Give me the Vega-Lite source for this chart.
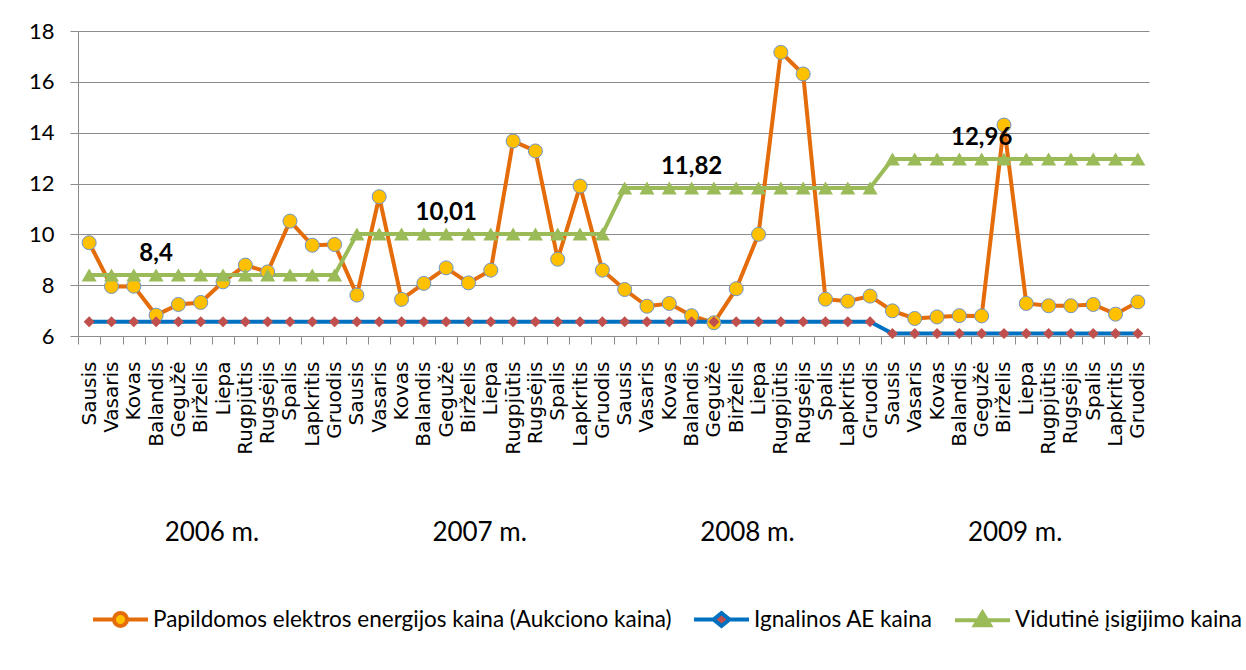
{
  "$schema": "https://vega.github.io/schema/vega-lite/v6.json",
  "width": 1071,
  "height": 305,
  "autosize": {"type": "none"},
  "padding": {"left": 78, "top": 31, "right": 97, "bottom": 334},
  "background": "white",
  "config": {"font": "Lato", "view": {"stroke": null}},
  "datasets": {
    "main": [
      {"m": "2006 Sausis", "P": 9.67, "I": 6.56, "V": 8.4},
      {"m": "2006 Vasaris", "P": 7.95, "I": 6.56, "V": 8.4},
      {"m": "2006 Kovas", "P": 7.96, "I": 6.56, "V": 8.4},
      {"m": "2006 Balandis", "P": 6.82, "I": 6.56, "V": 8.4, "lab": "8,4"},
      {"m": "2006 Gegužė", "P": 7.24, "I": 6.56, "V": 8.4},
      {"m": "2006 Birželis", "P": 7.32, "I": 6.56, "V": 8.4},
      {"m": "2006 Liepa", "P": 8.13, "I": 6.56, "V": 8.4},
      {"m": "2006 Rugpjūtis", "P": 8.79, "I": 6.56, "V": 8.4},
      {"m": "2006 Rugsėjis", "P": 8.52, "I": 6.56, "V": 8.4},
      {"m": "2006 Spalis", "P": 10.52, "I": 6.56, "V": 8.4},
      {"m": "2006 Lapkritis", "P": 9.57, "I": 6.56, "V": 8.4},
      {"m": "2006 Gruodis", "P": 9.6, "I": 6.56, "V": 8.4},
      {"m": "2007 Sausis", "P": 7.61, "I": 6.56, "V": 10.01},
      {"m": "2007 Vasaris", "P": 11.48, "I": 6.56, "V": 10.01},
      {"m": "2007 Kovas", "P": 7.44, "I": 6.56, "V": 10.01},
      {"m": "2007 Balandis", "P": 8.07, "I": 6.56, "V": 10.01},
      {"m": "2007 Gegužė", "P": 8.68, "I": 6.56, "V": 10.01, "lab": "10,01"},
      {"m": "2007 Birželis", "P": 8.09, "I": 6.56, "V": 10.01},
      {"m": "2007 Liepa", "P": 8.59, "I": 6.56, "V": 10.01},
      {"m": "2007 Rugpjūtis", "P": 13.67, "I": 6.56, "V": 10.01},
      {"m": "2007 Rugsėjis", "P": 13.28, "I": 6.56, "V": 10.01},
      {"m": "2007 Spalis", "P": 9.02, "I": 6.56, "V": 10.01},
      {"m": "2007 Lapkritis", "P": 11.9, "I": 6.56, "V": 10.01},
      {"m": "2007 Gruodis", "P": 8.59, "I": 6.56, "V": 10.01},
      {"m": "2008 Sausis", "P": 7.83, "I": 6.56, "V": 11.82},
      {"m": "2008 Vasaris", "P": 7.17, "I": 6.56, "V": 11.82},
      {"m": "2008 Kovas", "P": 7.28, "I": 6.56, "V": 11.82},
      {"m": "2008 Balandis", "P": 6.8, "I": 6.56, "V": 11.82, "lab": "11,82"},
      {"m": "2008 Gegužė", "P": 6.52, "I": 6.56, "V": 11.82},
      {"m": "2008 Birželis", "P": 7.86, "I": 6.56, "V": 11.82},
      {"m": "2008 Liepa", "P": 10.0, "I": 6.56, "V": 11.82},
      {"m": "2008 Rugpjūtis", "P": 17.16, "I": 6.56, "V": 11.82},
      {"m": "2008 Rugsėjis", "P": 16.31, "I": 6.56, "V": 11.82},
      {"m": "2008 Spalis", "P": 7.45, "I": 6.56, "V": 11.82},
      {"m": "2008 Lapkritis", "P": 7.37, "I": 6.56, "V": 11.82},
      {"m": "2008 Gruodis", "P": 7.57, "I": 6.56, "V": 11.82},
      {"m": "2009 Sausis", "P": 6.99, "I": 6.1, "V": 12.96},
      {"m": "2009 Vasaris", "P": 6.69, "I": 6.1, "V": 12.96},
      {"m": "2009 Kovas", "P": 6.75, "I": 6.1, "V": 12.96},
      {"m": "2009 Balandis", "P": 6.8, "I": 6.1, "V": 12.96},
      {"m": "2009 Gegužė", "P": 6.79, "I": 6.1, "V": 12.96, "lab": "12,96"},
      {"m": "2009 Birželis", "P": 14.3, "I": 6.1, "V": 12.96},
      {"m": "2009 Liepa", "P": 7.28, "I": 6.1, "V": 12.96},
      {"m": "2009 Rugpjūtis", "P": 7.19, "I": 6.1, "V": 12.96},
      {"m": "2009 Rugsėjis", "P": 7.19, "I": 6.1, "V": 12.96},
      {"m": "2009 Spalis", "P": 7.24, "I": 6.1, "V": 12.96},
      {"m": "2009 Lapkritis", "P": 6.86, "I": 6.1, "V": 12.96},
      {"m": "2009 Gruodis", "P": 7.34, "I": 6.1, "V": 12.96}
    ],
    "years": [
      {"yr": "2006 m."},
      {"yr": "2007 m."},
      {"yr": "2008 m."},
      {"yr": "2009 m."}
    ]
  },
  "layer": [
    {
      "layer": [
        {
          "data": {"name": "main"},
          "transform": [{"fold": ["P", "I", "V"], "as": ["s", "v"]}],
          "mark": {"type": "line", "strokeWidth": 4},
          "encoding": {
            "x": {
              "field": "m", "type": "ordinal", "sort": null,
              "scale": {"type": "band", "paddingInner": 0, "paddingOuter": 0},
              "axis": {
                "title": null, "orient": "bottom", "labelAngle": -90,
                "labelFont": "DejaVu Sans", "labelFontSize": 20, "labelColor": "#000000", "labelPadding": 17,
                "labelExpr": "split(datum.value, ' ')[1]",
                "labelOverlap": false, "labelFlush": false, "labelBound": false,
                "tickBand": "extent", "tickSize": 8, "tickColor": "#8c8c8c",
                "domainColor": "#8c8c8c", "grid": false
              }
            },
            "y": {
              "field": "v", "type": "quantitative",
              "scale": {"domain": [6, 18], "nice": false, "zero": false},
              "axis": {
                "title": null, "values": [6, 8, 10, 12, 14, 16, 18],
                "labelFontSize": 22, "labelColor": "#000000", "labelPadding": 16,
                "tickSize": 8, "tickColor": "#8c8c8c", "domainColor": "#8c8c8c",
                "grid": true, "gridColor": "#8c8c8c", "gridWidth": 1
              }
            },
            "stroke": {
              "field": "s", "type": "nominal",
              "scale": {"domain": ["P", "I", "V"], "range": ["#E46C0A", "#0070C0", "#9BBB59"]},
              "legend": {
                "orient": "none", "direction": "horizontal", "legendX": 13, "legendY": 559,
                "title": null, "symbolSize": 3025, "symbolStrokeWidth": 4,
                "labelFontSize": 22.5, "labelColor": "#000000", "labelOffset": 3,
                "columnPadding": 14, "labelLimit": 900, "padding": 0,
                "labelExpr": "datum.value === 'P' ? 'Papildomos elektros energijos kaina (Aukciono kaina)' : datum.value === 'I' ? 'Ignalinos AE kaina' : 'Vidutinė įsigijimo kaina'",
                "encode": {
                  "symbols": {
                    "update": {
                      "shape": {"signal": "datum.value === 'P' ? 'M-1,0H-0.236M0.236,0H1M-0.236,0A0.236,0.236,0,1,1,0.236,0A0.236,0.236,0,1,1,-0.236,0Z' : datum.value === 'I' ? 'M-1,0H-0.29M0.29,0H1M-0.29,0L0,-0.236L0.29,0L0,0.236Z' : 'M-1,0H1M-0.273,0.18L0,-0.28L0.273,0.18Z'"},
                      "fill": {"signal": "datum.value === 'P' ? '#FFC000' : datum.value === 'I' ? '#C0504D' : '#9BBB59'"},
                      "fillOpacity": {"value": 1}
                    }
                  }
                }
              }
            }
          }
        },
        {
          "data": {"name": "main"},
          "transform": [{"fold": ["P", "I", "V"], "as": ["s2", "v"]}],
          "mark": {"type": "point", "filled": true, "opacity": 1, "strokeWidth": 1},
          "encoding": {
            "x": {"field": "m", "type": "ordinal", "sort": null},
            "y": {"field": "v", "type": "quantitative"},
            "fill": {
              "condition": [
                {"test": "datum.s2 === 'P'", "value": "#FFC000"},
                {"test": "datum.s2 === 'I'", "value": "#C0504D"}
              ],
              "value": "#9BBB59"
            },
            "shape": {
              "condition": [
                {"test": "datum.s2 === 'P'", "value": "circle"},
                {"test": "datum.s2 === 'I'", "value": "diamond"}
              ],
              "value": "triangle-up"
            },
            "size": {
              "condition": [
                {"test": "datum.s2 === 'P'", "value": 196},
                {"test": "datum.s2 === 'I'", "value": 121}
              ],
              "value": 225
            },
            "stroke": {"condition": {"test": "datum.s2 === 'P'", "value": "#6F95C8"}, "value": "transparent"}
          }
        },
        {
          "data": {"name": "main"},
          "transform": [{"filter": "datum.lab != null"}],
          "mark": {"type": "text", "fontSize": 24, "fontWeight": "bold", "color": "#000000", "baseline": "alphabetic", "align": "center", "dy": -14},
          "encoding": {
            "x": {"field": "m", "type": "ordinal", "sort": null},
            "y": {"field": "V", "type": "quantitative"},
            "text": {"field": "lab"}
          }
        }
      ]
    },
    {
      "data": {"name": "years"},
      "mark": {"type": "text", "text": ""},
      "encoding": {
        "x": {
          "field": "yr", "type": "nominal", "sort": null,
          "scale": {"type": "band", "paddingInner": 0, "paddingOuter": 0},
          "axis": {
            "title": null, "orient": "bottom", "labelAngle": 0, "labelFontSize": 26,
            "labelColor": "#000000", "labelPadding": 183, "labelBaseline": "top",
            "domain": false, "ticks": false, "tickSize": 0, "grid": false
          }
        }
      }
    }
  ],
  "resolve": {"scale": {"x": "independent"}, "axis": {"x": "independent"}}
}
